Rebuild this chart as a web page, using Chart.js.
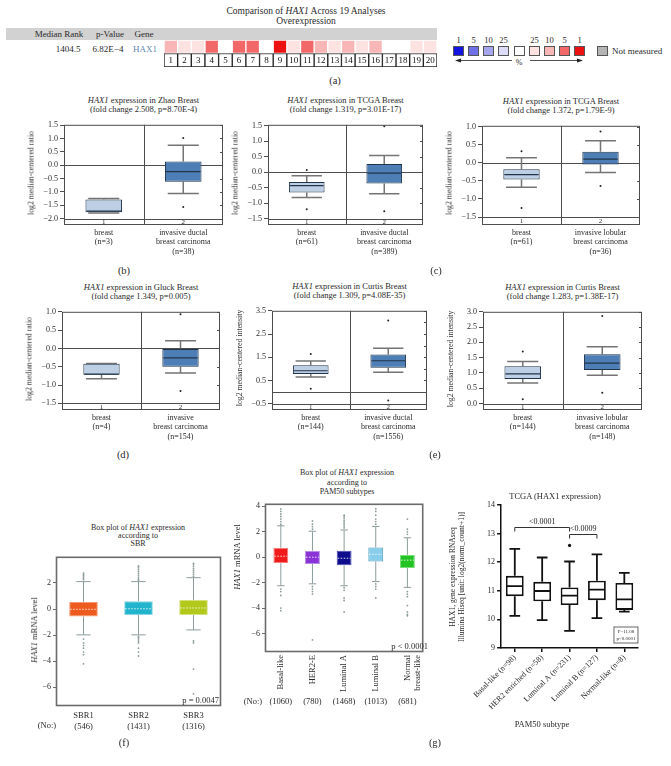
<!DOCTYPE html>
<html>
<head>
<meta charset="utf-8">
<title>HAX1 expression</title>
<script src="https://cdn.jsdelivr.net/npm/chart.js@4.4.1/dist/chart.umd.min.js"></script>
<style>
  body { margin: 0; background: #fff; }
  #fig { position: relative; width: 671px; height: 766px; overflow: hidden;
         font-family: "Liberation Serif", "DejaVu Serif", serif; color: #2a2a2a; }
  #fig canvas { position: absolute; }
  .t { position: absolute; white-space: nowrap; }
  .sq { position: absolute; width: 11px; height: 10px; border: 1px solid #555; box-sizing: border-box; }
</style>
</head>
<body>
<div id="fig"></div>
<script>
// ---------- (a) oncomine comparison strip ----------
const stripIdx = [1, 2, 3, 4, 5, 6, 7, 8, 9, 10, 11, 12, 13, 14, 15, 16, 17, 18, 19, 20];
const stripPct = [10, 25, 25, 5, 0, 5, 5, 0, 1, 25, 5, 10, 25, 10, 25, 10, 0, 0, 25, 25]; // 0 = not in top 25%
const legendPct = [1, 5, 10, 25, 0, 25, 10, 5, 1];
const legendDir = [-1, -1, -1, -1, 0, 1, 1, 1, 1];

// ---------- (b) ----------
const zhaoCats = [['breast', '(n=3)'], ['invasive ductal', 'breast carcinoma', '(n=38)']];
const zhaoQ1 = [-1.76, -0.62], zhaoMed = [-1.72, -0.24], zhaoQ3 = [-1.29, 0.14];
const zhaoLo = [-1.79, -1.06], zhaoHi = [-1.25, 0.74];
const zhaoOutG = [1, 1], zhaoOutV = [1.02, -1.57];
const zhaoTicks = [1.5, 1.0, 0.5, 0.0, -0.5, -1.0, -1.5, -2.0];

const tcgaDCats = [['breast', '(n=61)'], ['invasive ductal', 'breast carcinoma', '(n=389)']];
const tcgaDQ1 = [-0.65, -0.36], tcgaDMed = [-0.43, -0.03], tcgaDQ3 = [-0.31, 0.27];
const tcgaDLo = [-0.81, -0.69], tcgaDHi = [-0.11, 0.54];
const tcgaDOutG = [0, 0, 1, 1], tcgaDOutV = [0.07, -1.19, 1.48, -1.26];
const tcgaDTicks = [1.5, 1.0, 0.5, 0.0, -0.5, -1.0, -1.5];

// ---------- (c) ----------
const tcgaLCats = [['breast', '(n=61)'], ['invasive lobular', 'breast carcinoma', '(n=36)']];
const tcgaLQ1 = [-0.46, -0.05], tcgaLMed = [-0.33, 0.10], tcgaLQ3 = [-0.18, 0.30];
const tcgaLLo = [-0.68, -0.27], tcgaLHi = [0.14, 0.61];
const tcgaLOutG = [0, 0, 1, 1], tcgaLOutV = [0.32, -1.25, 0.86, -0.64];
const tcgaLTicks = [1.0, 0.5, 0.0, -0.5, -1.0, -1.5];

// ---------- (d) ----------
const gluckCats = [['breast', '(n=4)'], ['invasive', 'breast carcinoma', '(n=154)']];
const gluckQ1 = [-0.72, -0.50], gluckMed = [-0.70, -0.26], gluckQ3 = [-0.42, 0.0];
const gluckLo = [-0.83, -0.67], gluckHi = [-0.41, 0.21];
const gluckOutG = [1, 1], gluckOutV = [0.93, -1.16];
const gluckTicks = [1.0, 0.5, 0.0, -0.5, -1.0, -1.5];

// ---------- (e) ----------
const curtDCats = [['breast', '(n=144)'], ['invasive ductal', 'breast carcinoma', '(n=1556)']];
const curtDQ1 = [0.78, 1.05], curtDMed = [0.92, 1.35], curtDQ3 = [1.16, 1.62];
const curtDLo = [0.65, 0.85], curtDHi = [1.34, 1.89];
const curtDOutG = [0, 0, 1, 1], curtDOutV = [1.64, 0.14, 3.08, -0.36];
const curtDTicks = [3.5, 3.0, 2.5, 2.0, 1.5, 1.0, 0.5, 0.0, -0.5];

const curtLCats = [['breast', '(n=144)'], ['invasive lobular', 'breast carcinoma', '(n=148)']];
const curtLQ1 = [0.80, 1.10], curtLMed = [0.97, 1.32], curtLQ3 = [1.22, 1.61];
const curtLLo = [0.67, 0.93], curtLHi = [1.375, 1.86];
const curtLOutG = [0, 0, 1, 1], curtLOutV = [1.70, 0.14, 2.86, 0.35];
const curtLTicks = [3.0, 2.5, 2.0, 1.5, 1.0, 0.5, 0.0];

// ---------- (f) SBR ----------
const sbrCats = [['SBR1', '(546)'], ['SBR2', '(1431)'], ['SBR3', '(1316)']];
const sbrQ1 = [-0.57, -0.45, -0.45], sbrMed = [-0.02, 0.02, 0.08], sbrQ3 = [0.54, 0.60, 0.70];
const sbrLo = [-1.98, -1.98, -1.60], sbrHi = [2.10, 2.10, 2.40];
const sbrOutG = [0,0,0,0,0,0, 0,0,0,0,0,0,0,
                 1,1,1,1,1,1,1,1,1, 1,1,1,1,1,1,1,1,
                 2,2,2,2,2,2,2,2, 2,2,2,2];
const sbrOutV = [2.25, 2.35, 2.45, 2.55, 2.65, 2.75, -2.3, -2.6, -2.8, -3.0, -3.3, -3.5, -4.2,
                 2.2, 2.3, 2.45, 2.6, 2.75, 2.9, 3.05, 3.2, 3.3, -2.1, -2.2, -2.3, -2.45, -2.6, -3.0, -3.3, -3.6,
                 2.5, 2.65, 2.8, 2.95, 3.1, 3.25, 3.4, 3.5, -2.45, -2.6, -4.6, -6.5];
const sbrTicks = [2, 0, -2, -4, -6];

// ---------- (g) PAM50 ----------
const pamCats = ['Basal-like', 'HER2-E', 'Luminal A', 'Luminal B', ['Normal', 'breast-like']];
const pamN = ['(1060)', '(780)', '(1468)', '(1013)', '(681)'];
const pamQ1 = [-0.46, -0.53, -0.64, -0.33, -0.84], pamMed = [0.08, 0.0, -0.08, 0.23, -0.23];
const pamQ3 = [0.74, 0.51, 0.51, 0.76, 0.18];
const pamLo = [-2.24, -2.09, -2.24, -1.91, -2.37], pamHi = [2.47, 2.04, 2.14, 2.42, 1.53];
const pamOutG = [0,0,0,0,0,0,0, 0,0,0,0,0,
                 1,1,1,1, 1,1,1,1,1,
                 2,2,2,2,2,2,2,2, 2,2,2,2,2,
                 3,3,3,3,3,3, 3,3,3,3,
                 4,4,4,4, 4,4,4,4,4,4,4];
const pamOutV = [2.6, 2.8, 3.0, 3.2, 3.4, 3.6, 3.8, -2.5, -2.7, -3.0, -4.0, -4.2,
                 2.2, 2.4, 2.6, 2.85, -2.3, -2.5, -2.7, -2.9, -6.5,
                 2.3, 2.45, 2.6, 2.75, 2.9, 3.05, 3.2, 3.3, -2.4, -2.6, -3.2, -3.4, -4.3,
                 2.6, 2.8, 3.0, 3.3, 3.6, 3.8, -2.1, -2.3, -2.5, -3.2,
                 1.8, 2.0, 2.2, 3.0, -2.7, -2.9, -3.1, -3.8, -4.3, -4.5, -4.6];
const pamTicks = [4, 2, 0, -2, -4, -6];

const tcCats = ['Basal-like (n=98)', 'HER2 enriched (n=58)', 'Luminal A (n=231)', 'Luminal B (n=127)', 'Normal-like (n=8)'];
const tcQ1 = [10.81, 10.63, 10.50, 10.67, 10.33], tcMed = [11.16, 10.99, 10.83, 11.04, 10.70];
const tcQ3 = [11.52, 11.31, 11.11, 11.35, 11.27];
const tcLo = [10.12, 9.97, 9.60, 10.04, 10.27], tcHi = [12.46, 12.16, 12.02, 12.27, 11.62];
const tcOutG = [2], tcOutV = [12.58];
const tcTicks = [9, 10, 11, 12, 13, 14];
const tcPairA = [0, 2], tcPairB = [2, 3], tcPairP = ['<0.0001', '<0.0009'];

// ---------- helpers ----------
Chart.defaults.font.family = '"Liberation Serif", "DejaVu Serif", serif';
Chart.defaults.color = '#2a2a2a';

const fig = document.getElementById('fig');

function txt(html, x, y, o) {
    o = o || {};
    const d = document.createElement('div');
    d.className = 't';
    d.innerHTML = html;
    const size = o.size || 9;
    d.style.fontSize = size + 'px';
    d.style.lineHeight = (o.lh || size * 1.15) + 'px';
    d.style.left = x + 'px';
    d.style.top = y + 'px';
    d.style.textAlign = o.ta || 'center';
    if (o.color) d.style.color = o.color;
    let tf = o.align == 'left' ? 'translate(0,-50%)' : o.align == 'right' ? 'translate(-100%,-50%)' : 'translate(-50%,-50%)';
    if (o.rot) tf += ' rotate(' + o.rot + 'deg)';
    d.style.transform = tf;
    fig.appendChild(d);
    return d;
}

function canvasAt(l, t, w, h) {
    const c = document.createElement('canvas');
    c.width = w; c.height = h;
    c.style.left = l + 'px'; c.style.top = t + 'px';
    c.style.width = w + 'px'; c.style.height = h + 'px';
    fig.appendChild(c);
    return c;
}

const minus = v => String(v).replace('-', '\u2212');

function pctColor(pct, dir) {
    if (!pct) return '#ffffff';
    if (dir < 0) return {1: '#1414e0', 5: '#6f6fe6', 10: '#a5a5ee', 25: '#dcdcf8'}[pct];
    return {1: '#ec1212', 5: '#f26868', 10: '#f8b6b6', 25: '#fde2e2'}[pct];
}

// whiskers, medians, frame etc drawn through the chart scales
function boxParts(p) {
    return {
        id: 'boxparts',
        beforeDatasetsDraw(chart) {
            const {ctx, chartArea: a, scales: {y}} = chart;
            const bars = chart.getDatasetMeta(0).data;
            ctx.save();
            ctx.strokeStyle = p.axisColor; ctx.lineWidth = 1;
            ctx.beginPath();
            (p.hlines || []).forEach(v => {
                const py = Math.round(y.getPixelForValue(v)) + 0.5;
                ctx.moveTo(a.left, py); ctx.lineTo(a.right, py);
            });
            if (p.divider) {
                const mx = Math.round((a.left + a.right) / 2) + 0.5;
                ctx.moveTo(mx, a.top); ctx.lineTo(mx, a.bottom);
            }
            ctx.stroke();
            ctx.strokeStyle = p.wc; ctx.lineWidth = p.ww;
            ctx.beginPath();
            bars.forEach((bar, i) => {
                const cw = bar.width * p.cap / 2;
                [[p.q3[i], p.hi[i]], [p.q1[i], p.lo[i]]].forEach(seg => {
                    const y0 = y.getPixelForValue(seg[0]), y1 = y.getPixelForValue(seg[1]);
                    ctx.moveTo(bar.x, y0); ctx.lineTo(bar.x, y1);
                    ctx.moveTo(bar.x - cw, y1); ctx.lineTo(bar.x + cw, y1);
                });
            });
            ctx.stroke();
            ctx.restore();
        },
        afterDatasetsDraw(chart) {
            const {ctx, chartArea: a, scales: {y}} = chart;
            const bars = chart.getDatasetMeta(0).data;
            ctx.save();
            // medians
            ctx.strokeStyle = p.mc; ctx.lineWidth = p.mw;
            if (p.dash) ctx.setLineDash(p.dash);
            ctx.beginPath();
            bars.forEach((bar, i) => {
                const py = y.getPixelForValue(p.med[i]);
                ctx.moveTo(bar.x - bar.width / 2 + 1, py); ctx.lineTo(bar.x + bar.width / 2 - 1, py);
            });
            ctx.stroke();
            ctx.setLineDash([]);
            if (p.frame) {
                ctx.strokeStyle = p.frame; ctx.lineWidth = p.frameW;
                ctx.strokeRect(a.left + 0.5, a.top + 0.5, a.right - a.left - 1, a.bottom - a.top - 1);
            }
            if (p.rightTicks) {
                ctx.strokeStyle = p.frame; ctx.lineWidth = 1;
                ctx.beginPath();
                p.ticks.forEach(v => {
                    const py = Math.round(y.getPixelForValue(v)) + 0.5;
                    ctx.moveTo(a.right - 3, py); ctx.lineTo(a.right, py);
                });
                ctx.stroke();
            }
            if (p.strip) {
                const top = y.getPixelForValue(p.hlines[p.hlines.length - 1]);
                ctx.fillStyle = '#333';
                ctx.font = '7px "Liberation Serif", serif';
                ctx.textAlign = 'center'; ctx.textBaseline = 'middle';
                bars.forEach((bar, i) => ctx.fillText(String(i + 1), bar.x, (top + a.bottom) / 2 + 0.5));
            }
            if (p.extra) p.extra(chart, ctx);
            ctx.restore();
        }
    };
}

function boxChart(p) {
    const w = p.area.r - p.area.l + p.pad.L + p.pad.R;
    const h = p.area.b - p.area.t + p.pad.T + p.pad.B;
    const cv = canvasAt(p.area.l - p.pad.L, p.area.t - p.pad.T, w, h);
    const keys = p.cats.map((c, i) => 'c' + i);
    const chart = new Chart(cv, {
        type: 'bar',
        data: {
            labels: keys,
            datasets: [{
                data: p.q1.map((v, i) => [v, p.q3[i]]),
                backgroundColor: p.fill, borderColor: p.border, borderWidth: p.bw,
                borderSkipped: false, barPercentage: p.barPct, categoryPercentage: 1
            }, {
                type: 'line',
                data: p.outG.map((g, i) => ({x: keys[g], y: p.outV[i]})),
                showLine: false, pointRadius: p.pr, pointBackgroundColor: p.pc,
                pointBorderWidth: 0, pointHoverRadius: 0
            }]
        },
        options: {
            responsive: false, animation: false, events: [],
            layout: {padding: {left: 0, top: p.pad.T, right: p.pad.R, bottom: 0}},
            plugins: {legend: {display: false}, tooltip: {enabled: false}},
            scales: {
                x: {
                    grid: p.xTicks ? {display: true, offset: false, drawOnChartArea: false, tickLength: 4, color: '#111', lineWidth: 1.5}
                                   : {display: false, drawTicks: false, tickLength: 0},
                    border: p.axisBorder ? {display: true, color: '#111', width: 1.5} : {display: false},
                    ticks: {font: {size: p.catFont, lineHeight: 1.2}, color: '#2a2a2a', padding: p.catPad,
                            autoSkip: false, minRotation: p.rot || 0, maxRotation: p.rot || 0,
                            callback: (v, i) => p.cats[i]},
                    afterFit: s => { s.height = p.pad.B; }
                },
                y: {
                    min: p.min, max: p.max, beginAtZero: false,
                    afterBuildTicks: s => { s.ticks = p.ticks.map(v => ({value: v})); },
                    afterFit: s => { s.width = p.pad.L; },
                    grid: {drawOnChartArea: false, drawTicks: true, tickLength: p.tickLen || 4,
                           color: p.axisColor, lineWidth: p.axisBorder ? 1.5 : 1},
                    border: p.axisBorder ? {display: true, color: '#111', width: 1.5} : {display: false},
                    ticks: {font: {size: p.tickFont}, color: '#2a2a2a', padding: 2,
                            callback: v => minus(p.dec ? v.toFixed(p.dec) : v)}
                }
            }
        },
        plugins: [boxParts(p)]
    });
    return {chart, left: p.area.l - p.pad.L, top: p.area.t - p.pad.T};
}

function oncoPanel(o) {
    boxChart({
        area: o.area, pad: {L: 28, T: 2, R: 2, B: 36},
        cats: o.cats, q1: o.q1, med: o.med, q3: o.q3, lo: o.lo, hi: o.hi, outG: o.outG, outV: o.outV,
        fill: ['#bccfe4', '#4d7fb6'], border: '#22344a', bw: 1, barPct: 0.46,
        wc: '#747474', ww: 1.5, cap: 0.85, mc: '#22344a', mw: 1.2,
        pr: 1, pc: '#222',
        ticks: o.ticks, min: o.min, max: o.max, dec: 1,
        hlines: o.hlines, divider: true, frame: '#4d4d4d', frameW: 1, rightTicks: true, strip: true,
        axisColor: '#4d4d4d', tickFont: 8, catFont: 8, catPad: 3
    });
    const cx = (o.area.l + o.area.r) / 2;
    txt(o.title1, cx, o.area.t - 19, {size: 8.5});
    txt(o.title2, cx, o.area.t - 10, {size: 8.5});
    txt(o.ytitle, o.area.l - 32, (o.area.t + o.area.b) / 2, {size: 7.8, rot: -90, color: '#333'});
}

// ---------- panel (a) ----------
txt('Comparison of <i>HAX1</i> Across 19 Analyses', 306, 11, {size: 9.5});
txt('Overexpression', 306, 21, {size: 9.5});
const bar = document.createElement('div');
bar.style.cssText = 'position:absolute;left:6px;top:28px;width:431px;height:12px;background:#d2d2d2';
fig.appendChild(bar);
txt('Median Rank', 59, 34, {size: 9});
txt('p-Value', 110, 34, {size: 9});
txt('Gene', 144, 34, {size: 9});
txt('1404.5', 68, 49, {size: 9});
txt('6.82E\u22124', 108, 49, {size: 9});
txt('HAX1', 145, 49, {size: 9, color: '#6488b2'});

new Chart(canvasAt(164, 40, 273, 27), {
    type: 'bar',
    data: {
        labels: stripIdx,
        datasets: [{
            data: stripIdx.map(() => [0, 1]),
            backgroundColor: '#fff', borderColor: '#222', borderWidth: 1, borderSkipped: false,
            barPercentage: 1, categoryPercentage: 1, grouped: false
        }, {
            data: stripIdx.map(() => [1, 2]),
            backgroundColor: stripPct.map(v => pctColor(v, 1)), borderColor: '#fff', borderWidth: 1,
            borderSkipped: false, barPercentage: 1, categoryPercentage: 1, grouped: false
        }]
    },
    options: {
        responsive: false, animation: false, events: [],
        layout: {padding: 0},
        plugins: {legend: {display: false}, tooltip: {enabled: false}},
        scales: {x: {display: false}, y: {display: false, min: 0, max: 2}}
    },
    plugins: [{
        id: 'cellnums',
        afterDatasetsDraw(chart) {
            const ctx = chart.ctx;
            ctx.save();
            ctx.fillStyle = '#111';
            ctx.font = '9px "Liberation Serif", serif';
            ctx.textAlign = 'center'; ctx.textBaseline = 'middle';
            chart.getDatasetMeta(0).data.forEach((b, i) => {
                ctx.fillText(String(stripIdx[i]), b.x, (b.y + b.base) / 2 + 0.5);
            });
            ctx.restore();
        }
    }]
});

// legend of the strip
const legX = [453, 468, 483, 498, 514, 529, 544, 559, 574];
legendPct.forEach((v, i) => {
    const s = document.createElement('div');
    s.className = 'sq';
    s.style.left = legX[i] + 'px'; s.style.top = '46px';
    s.style.background = pctColor(v, legendDir[i]);
    fig.appendChild(s);
    if (v) txt(String(v), legX[i] + 5.5, 41, {size: 8.5});
});
const nm = document.createElement('div');
nm.className = 'sq';
nm.style.cssText += ';left:597px;top:46px;background:#b4b4b4';
fig.appendChild(nm);
txt('Not measured', 612, 51, {size: 9, align: 'left'});
fig.insertAdjacentHTML('beforeend',
    '<svg style="position:absolute;left:455px;top:56px" width="130" height="10">' +
    '<line x1="4" y1="4.5" x2="57" y2="4.5" stroke="#222" stroke-width="0.8"/>' +
    '<polygon points="0,4.5 6,2.5 6,6.5" fill="#222"/>' +
    '<line x1="75" y1="4.5" x2="124" y2="4.5" stroke="#222" stroke-width="0.8"/>' +
    '<polygon points="128,4.5 122,2.5 122,6.5" fill="#222"/></svg>');
txt('%', 519, 63, {size: 8});
txt('(a)', 335, 81, {size: 10.5});

// ---------- panels (b)-(e) ----------
const ratio = 'log2 median-centered ratio', inten = 'log2 median-centered intensity';
oncoPanel({area: {l: 64, t: 120, r: 223, b: 225}, cats: zhaoCats, q1: zhaoQ1, med: zhaoMed, q3: zhaoQ3,
    lo: zhaoLo, hi: zhaoHi, outG: zhaoOutG, outV: zhaoOutV, ticks: zhaoTicks, min: -2.24, max: 1.51,
    hlines: [0, -2], title1: '<i>HAX1</i> expression in Zhao Breast', title2: '(fold change 2.508, p=8.70E-4)', ytitle: ratio});
oncoPanel({area: {l: 268, t: 120, r: 423, b: 225}, cats: tcgaDCats, q1: tcgaDQ1, med: tcgaDMed, q3: tcgaDQ3,
    lo: tcgaDLo, hi: tcgaDHi, outG: tcgaDOutG, outV: tcgaDOutV, ticks: tcgaDTicks, min: -1.7, max: 1.53,
    hlines: [0, -1.5], title1: '<i>HAX1</i> expression in TCGA Breast', title2: '(fold change 1.319, p=3.01E-17)', ytitle: ratio});
oncoPanel({area: {l: 482, t: 121, r: 640, b: 225}, cats: tcgaLCats, q1: tcgaLQ1, med: tcgaLMed, q3: tcgaLQ3,
    lo: tcgaLLo, hi: tcgaLHi, outG: tcgaLOutG, outV: tcgaLOutV, ticks: tcgaLTicks, min: -1.72, max: 1.02,
    hlines: [0, -1.5], title1: '<i>HAX1</i> expression in TCGA Breast', title2: '(fold change 1.372, p=1.79E-9)', ytitle: ratio});
oncoPanel({area: {l: 62, t: 307, r: 220, b: 410}, cats: gluckCats, q1: gluckQ1, med: gluckMed, q3: gluckQ3,
    lo: gluckLo, hi: gluckHi, outG: gluckOutG, outV: gluckOutV, ticks: gluckTicks, min: -1.68, max: 1.0,
    hlines: [0, -1.5], title1: '<i>HAX1</i> expression in Gluck Breast', title2: '(fold change 1.349, p=0.005)', ytitle: ratio});
oncoPanel({area: {l: 272, t: 306, r: 427, b: 410}, cats: curtDCats, q1: curtDQ1, med: curtDMed, q3: curtDQ3,
    lo: curtDLo, hi: curtDHi, outG: curtDOutG, outV: curtDOutV, ticks: curtDTicks, min: -0.77, max: 3.5,
    hlines: [0, -0.5], title1: '<i>HAX1</i> expression in Curtis Breast', title2: '(fold change 1.309, p=4.08E-35)', ytitle: inten});
oncoPanel({area: {l: 483, t: 307, r: 642, b: 410}, cats: curtLCats, q1: curtLQ1, med: curtLMed, q3: curtLQ3,
    lo: curtLLo, hi: curtLHi, outG: curtLOutG, outV: curtLOutV, ticks: curtLTicks, min: -0.21, max: 3.0,
    hlines: [0], title1: '<i>HAX1</i> expression in Curtis Breast', title2: '(fold change 1.283, p=1.38E-17)', ytitle: inten});
txt('(b)', 124, 271, {size: 10.5});
txt('(c)', 436, 271, {size: 10.5});
txt('(d)', 123, 455, {size: 10.5});
txt('(e)', 435, 455, {size: 10.5});

// ---------- panel (f) ----------
boxChart({
    area: {l: 56, t: 552, r: 221, b: 706}, pad: {L: 20, T: 2, R: 2, B: 26},
    cats: sbrCats, q1: sbrQ1, med: sbrMed, q3: sbrQ3, lo: sbrLo, hi: sbrHi, outG: sbrOutG, outV: sbrOutV,
    fill: ['#ec5a1e', '#22b4cc', '#b2c81a'], border: ['#f59a72', '#86d6e3', '#d3e27a'], bw: 1, barPct: 0.52,
    wc: '#8c9c9c', ww: 1, cap: 0.5, mc: 'rgba(255,255,255,0.85)', mw: 1, dash: [1.5, 1.5],
    pr: 0.9, pc: '#8c9a9a',
    ticks: sbrTicks, min: -7.43, max: 4.0, tickLen: 3,
    frame: '#6b6b6b', frameW: 1.6, axisColor: '#6b6b6b', tickFont: 8, catFont: 8.5, catPad: 5
});
txt('Box plot of <i>HAX1</i> expression<br>according to<br>SBR', 138, 536, {size: 8, lh: 7.8});
txt('<i>HAX1</i> mRNA level', 35, 630, {size: 8.5, rot: -90});
txt('p = 0.0047', 219, 701, {size: 8.5, align: 'right'});
txt('(No:)', 47, 726, {size: 8.5});
txt('(f)', 124, 743, {size: 10.5});

// ---------- panel (g) left ----------
const g1 = boxChart({
    area: {l: 265, t: 499, r: 429, b: 652}, pad: {L: 20, T: 2, R: 2, B: 45},
    cats: pamCats, q1: pamQ1, med: pamMed, q3: pamQ3, lo: pamLo, hi: pamHi, outG: pamOutG, outV: pamOutV,
    fill: ['#f01c1c', '#8a33d6', '#0c0c8c', '#88cdea', '#22c322'],
    border: ['#f77c7c', '#b88ae6', '#4a4ab4', '#4d9cc0', '#78de78'], bw: 1, barPct: 0.47,
    wc: '#8c9c9c', ww: 1, cap: 0.5, mc: 'rgba(255,255,255,0.85)', mw: 1, dash: [1.5, 1.5],
    pr: 0.9, pc: '#8c9a9a',
    ticks: pamTicks, min: -7.45, max: 4.2, tickLen: 3,
    frame: '#6b6b6b', frameW: 1.6, axisColor: '#6b6b6b', tickFont: 8, catFont: 8.5, catPad: 3, rot: 90
});
txt('Box plot of <i>HAX1</i> expression<br>according to<br>PAM50 subtypes', 347, 482, {size: 8, lh: 9.5});
txt('<i>HAX1</i> mRNA level', 238, 557, {size: 8.5, rot: -90});
txt('p &lt; 0.0001', 428, 647, {size: 8.5, align: 'right'});
txt('(No:)', 253, 702, {size: 8.5});
pamN.forEach((s, i) => txt(s, g1.left + g1.chart.scales.x.getPixelForValue(i), 702, {size: 8.5}));
txt('(g)', 435, 743, {size: 10.5});

// ---------- panel (g) right ----------
boxChart({
    area: {l: 492, t: 504, r: 638, b: 648}, pad: {L: 20, T: 6, R: 4, B: 75},
    cats: tcCats, q1: tcQ1, med: tcMed, q3: tcQ3, lo: tcLo, hi: tcHi, outG: tcOutG, outV: tcOutV,
    fill: '#ffffff', border: '#111', bw: 1.8, barPct: 0.65,
    wc: '#111', ww: 1.8, cap: 0.6, mc: '#111', mw: 1.8,
    pr: 1.6, pc: '#111',
    ticks: tcTicks, min: 9, max: 14, tickLen: 4,
    axisBorder: true, xTicks: true, axisColor: '#111', tickFont: 8, catFont: 8, catPad: 1, rot: 45,
    extra: (chart, ctx) => {
        const {x, y} = chart.scales;
        const lvl = [13.24, 12.98];
        ctx.strokeStyle = '#333'; ctx.lineWidth = 1;
        ctx.fillStyle = '#222';
        ctx.font = '8px "Liberation Serif", serif';
        ctx.textAlign = 'center'; ctx.textBaseline = 'bottom';
        tcPairA.forEach((a, i) => {
            const xa = x.getPixelForValue(a), xb = x.getPixelForValue(tcPairB[i]);
            const py = Math.round(y.getPixelForValue(lvl[i])) + 0.5;
            ctx.beginPath();
            ctx.moveTo(xa, py + 4); ctx.lineTo(xa, py); ctx.lineTo(xb, py); ctx.lineTo(xb, py + 4);
            ctx.stroke();
            ctx.fillText(tcPairP[i], (xa + xb) / 2, py - 2);
        });
    }
});
txt('TCGA (HAX1 expression)', 555, 497, {size: 8.5});
txt('HAX1, gene expression RNAseq<br>Illumina Hiseq [unit: log2(norm_count+1)]', 457, 577, {size: 7.5, lh: 9, rot: -90});
txt('PAM50 subtype', 542, 725, {size: 8.5});
const fbox = txt('F=11.08<br>p&lt;0.0001', 626, 635, {size: 5, lh: 6.5});
fbox.style.border = '1px solid #666';
fbox.style.padding = '1px 2px';
</script>
</body>
</html>
